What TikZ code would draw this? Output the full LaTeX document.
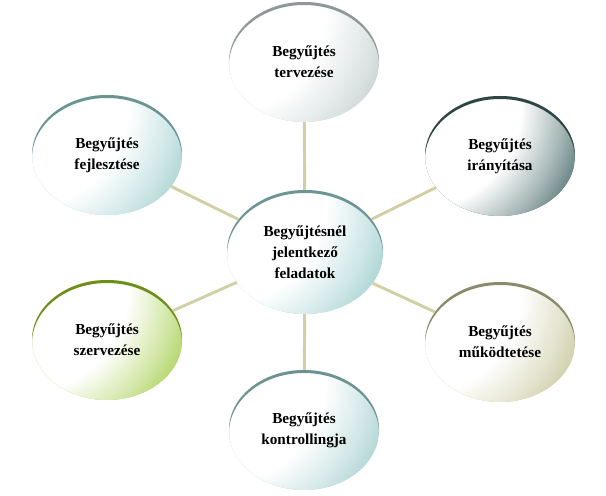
\documentclass[tikz,border=0pt]{standalone}
\usepackage{fontspec}
\setmainfont{Liberation Serif}
\usetikzlibrary{shapes.geometric}

\colorlet{bubcol}{white}
\colorlet{bubrim}{gray}
\pgfdeclareradialshading[bubcol]{bubglow}{\pgfpointorigin}{%
  color(0bp)=(white); color(14bp)=(white); color(20bp)=(bubcol!50!white);
  color(25bp)=(bubcol); color(50bp)=(bubcol)}

\definecolor{spokecol}{HTML}{D2CFA4}
\definecolor{midfill}{HTML}{A2D0D0}   \definecolor{midrim}{HTML}{6E9595}
\definecolor{topfill}{HTML}{C3CFCF}   \definecolor{toprim}{HTML}{8E9898}
\definecolor{fejfill}{HTML}{A2CFCF}   \definecolor{fejrim}{HTML}{6A9393}
\definecolor{iranyfill}{HTML}{4B6B6B} \definecolor{iranyrim}{HTML}{2F4545}
\definecolor{szervfill}{HTML}{A5CE4E} \definecolor{szervrim}{HTML}{6E8E1A}
\definecolor{mukfill}{HTML}{C7C69C}   \definecolor{mukrim}{HTML}{8C8A6C}
\definecolor{kontrfill}{HTML}{A5CECE} \definecolor{kontrrim}{HTML}{6D9292}

\def\bubrx{75}\def\bubry{60}
\tikzset{
  fillcol/.code={\colorlet{bubcol}{#1}},
  rimcol/.code={\colorlet{bubrim}{#1}},
  bubble/.style={ellipse, minimum width=4.5cm, minimum height=3.6cm, inner sep=0pt,
    align=center, font=\fontsize{13}{18}\selectfont\bfseries,
    fillcol=#1fill, rimcol=#1rim,
    path picture={
      \fill[bubcol] (path picture bounding box.south west) rectangle (path picture bounding box.north east);
      \shade[shading=bubglow] ([shift={(-80,50)}]path picture bounding box.center) circle[radius=180];
      \fill[bubrim, even odd rule]
      (path picture bounding box.center) ellipse[x radius=\bubrx+10, y radius=\bubry+10]
      ([yshift=-0.09cm]path picture bounding box.center) ellipse[x radius=\bubrx, y radius=\bubry];}},
  spoke/.style={line width=2.5pt, draw=spokecol}
}

\begin{document}
\begin{tikzpicture}[x=0.03cm, y=0.03cm]
\useasboundingbox (0,0) rectangle (606,496);

\node (mid)[bubble=mid, minimum width=4.68cm, minimum height=3.72cm,
  /utils/exec={\def\bubrx{78}\def\bubry{62}}] at (305,244) {Begyűjtésnél\\jelentkező\\feladatok};

\node (terv)[bubble=top] at (304,434) {Begyűjtés\\tervezése};
\node (fejl)[bubble=fej] at (107,341) {Begyűjtés\\fejlesztése};
\node (irany)[bubble=irany] at (500,340) {Begyűjtés\\irányítása};
\node (szerv)[bubble=szerv] at (107,156) {Begyűjtés\\szervezése};
\node (muk)[bubble=muk] at (500,154) {Begyűjtés\\működtetése};
\node (kontr)[bubble=kontr] at (304,66) {Begyűjtés\\kontrollingja};

\draw[spoke] (mid) -- (terv);
\draw[spoke] (mid) -- (fejl);
\draw[spoke] (mid) -- (irany);
\draw[spoke] (mid) -- (szerv);
\draw[spoke] (mid) -- (muk);
\draw[spoke] (mid) -- (kontr);
\end{tikzpicture}
\end{document}
